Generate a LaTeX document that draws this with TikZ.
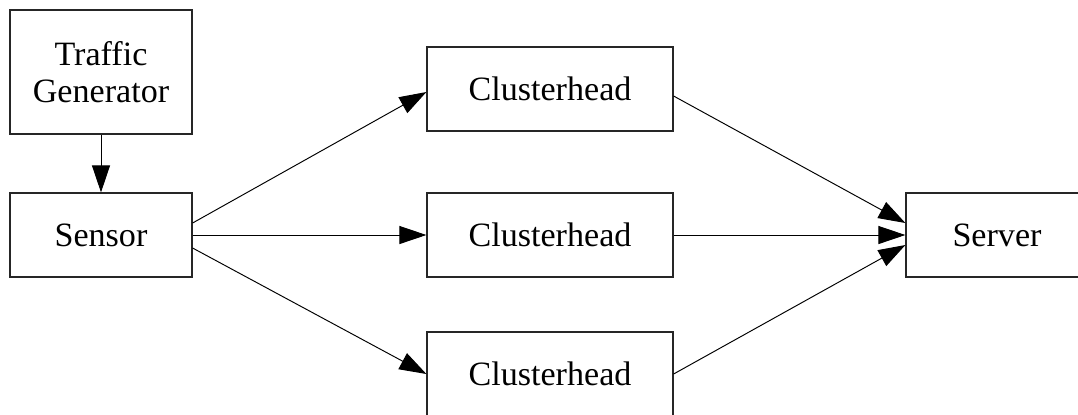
\documentclass[tikz,border=0pt]{standalone}
\usepackage{fontspec}
\setmainfont{Liberation Serif}
\usetikzlibrary{arrows.meta}

\tikzset{
  block/.style = {draw=black!85, line width=0.7pt, fill=white, align=center,
                   minimum width=3.64cm, minimum height=1.68cm, inner sep=0pt,
                   font=\fontsize{19.4}{21}\selectfont},
  wide/.style  = {block, minimum width=4.92cm},
  link/.style  = {draw=black, line width=0.55pt,
                  -{Triangle[length=0.54cm, width=0.36cm]}}
}

\begin{document}
\begin{tikzpicture}[x=0.02cm, y=-0.02cm]
  \useasboundingbox (0,0) rectangle (1078,414);
  \clip (0,0) rectangle (1078,414);

  % sources
  \node[block, minimum height=2.48cm] (gen) at (101,72) {Traffic\\Generator};
  \node[block] (sensor) at (101,235) {Sensor};

  % clusterheads
  \node[wide] (ch1) at (550,89)  {Clusterhead};
  \node[wide] (ch2) at (550,235) {Clusterhead};
  \node[wide] (ch3) at (550,374) {Clusterhead};

  % sink
  \node[block] (server) at (997,235) {Server};

  \draw[link] (gen.south) -- (sensor.north);

  \draw[link] ([yshift=0.24cm]sensor.east) -- ([yshift=-0.06cm]ch1.west);
  \draw[link] (sensor.east) -- (ch2.west);
  \draw[link] ([yshift=-0.26cm]sensor.east) -- (ch3.west);

  \draw[link] ([yshift=-0.14cm]ch1.east) -- ([yshift=0.24cm]server.west);
  \draw[link] (ch2.east) -- (server.west);
  \draw[link] (ch3.east) -- ([yshift=-0.2cm]server.west);
\end{tikzpicture}
\end{document}
